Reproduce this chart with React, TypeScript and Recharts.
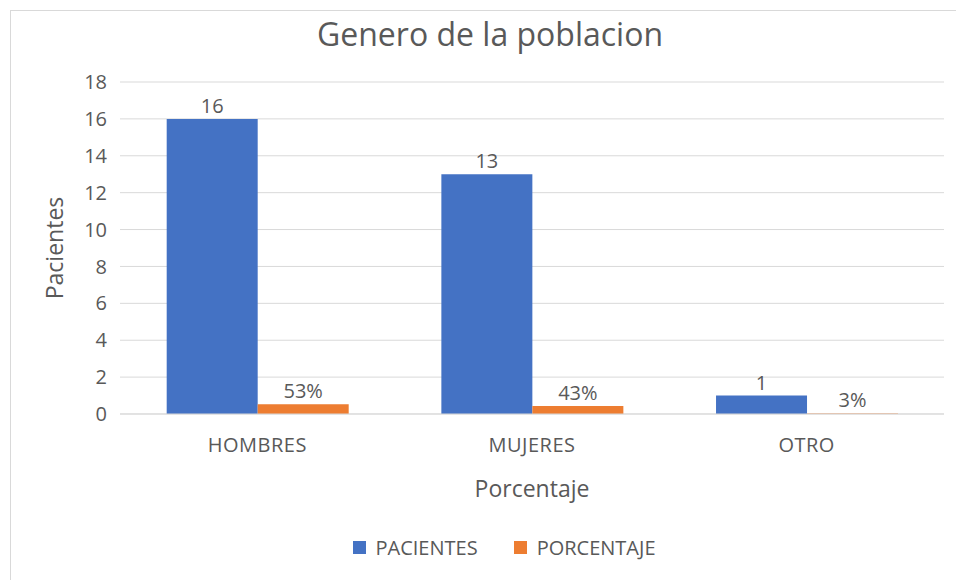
import React from 'react';
import { BarChart, Bar, XAxis, YAxis, CartesianGrid, Legend, LabelList, Label } from 'recharts';

const categories = ['HOMBRES', 'MUJERES', 'OTRO'];
const pacientes = [16, 13, 1];
const porcentaje = [0.53, 0.43, 0.03];
const yTicks = [0, 2, 4, 6, 8, 10, 12, 14, 16, 18];
const seriesNames = ['PACIENTES', 'PORCENTAJE'];
const seriesColors = ['#4472C4', '#ED7D31'];

const data = categories.map((c, i) => ({
  name: c,
  PACIENTES: pacientes[i],
  PORCENTAJE: porcentaje[i],
}));

const FONT = "'Open Sans', sans-serif";
const TXT = '#595959';

const LegendContent = () => (
  <div
    style={{
      display: 'flex',
      justifyContent: 'center',
      alignItems: 'center',
      height: 26,
      paddingLeft: 64,
      fontFamily: FONT,
      fontSize: 20,
      color: TXT,
    }}
  >
    {seriesNames.map((n, i) => (
      <div key={n} style={{ display: 'flex', alignItems: 'center', marginRight: i === 0 ? 36 : 0 }}>
        <div style={{ width: 13, height: 13, background: seriesColors[i], marginRight: 10 }} />
        <span>{n}</span>
      </div>
    ))}
  </div>
);

export default function App() {
  return (
    <div style={{ position: 'absolute', left: 0, top: 0, width: 956, height: 580, overflow: 'hidden', background: '#fff' }}>
      <div
        style={{
          position: 'absolute',
          left: 10,
          top: 10,
          width: 946,
          height: 570,
          borderLeft: '1px solid #d9d9d9',
          borderTop: '1px solid #d9d9d9',
          boxSizing: 'border-box',
        }}
      />
      <div
        style={{
          position: 'absolute',
          left: 0,
          top: 12,
          width: 980,
          textAlign: 'center',
          fontFamily: FONT,
          fontSize: 32,
          lineHeight: 'normal',
          color: TXT,
        }}
      >
        Genero de la poblacion
      </div>
      <div style={{ position: 'absolute', left: 0, top: 0 }}>
        <BarChart
          width={956}
          height={580}
          data={data}
          margin={{ top: 82, right: 12, bottom: 20, left: 0 }}
          barCategoryGap="17%"
          barGap={0}
          style={{ fontFamily: FONT }}
        >
          <CartesianGrid vertical={false} stroke="#d9d9d9" />
          <XAxis
            dataKey="name"
            height={120}
            axisLine={{ stroke: '#d9d9d9' }}
            tickLine={false}
            tickMargin={18}
            tick={{ fill: TXT, fontSize: 20, letterSpacing: 0.5 }}
          >
            <Label value="Porcentaje" position="center" dy={15} fill={TXT} fontSize={23} />
          </XAxis>
          <YAxis
            width={120}
            domain={[0, 18]}
            ticks={yTicks}
            axisLine={false}
            tickLine={false}
            tickMargin={7}
            tick={{ fill: TXT, fontSize: 20 }}
          >
            <Label value="Pacientes" position="center" angle={-90} dx={-5} fill={TXT} fontSize={23} />
          </YAxis>
          <Legend verticalAlign="bottom" content={<LegendContent />} />
          <Bar dataKey="PACIENTES" fill={seriesColors[0]} isAnimationActive={false}>
            <LabelList dataKey="PACIENTES" position="top" offset={6} fill={TXT} fontSize={20} />
          </Bar>
          <Bar dataKey="PORCENTAJE" fill={seriesColors[1]} isAnimationActive={false}>
            <LabelList
              dataKey="PORCENTAJE"
              position="top"
              offset={6}
              fill={TXT}
              fontSize={20}
              formatter={(v: number) => `${Math.round(v * 100)}%`}
            />
          </Bar>
        </BarChart>
      </div>
    </div>
  );
}
